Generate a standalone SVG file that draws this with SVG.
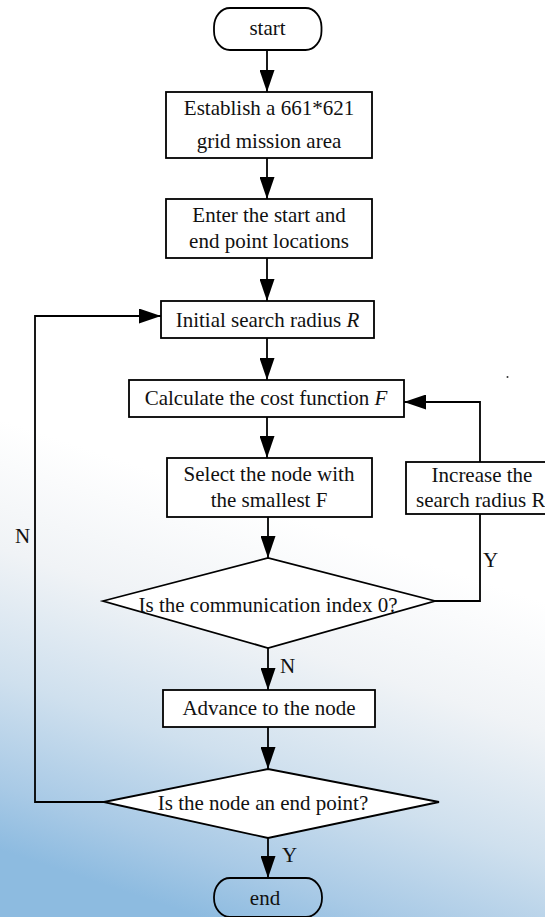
<svg xmlns="http://www.w3.org/2000/svg" width="545" height="917" viewBox="0 0 545 917">
<defs>
<style>
.n{fill:#fff;stroke:#000;stroke-width:1.8}
.t{fill:none;stroke:#000;stroke-width:1.8}
.c{fill:none;stroke:#000;stroke-width:1.8}
text{font-family:"Liberation Serif","Times New Roman",serif;font-size:21px;fill:#111}
.m{text-anchor:middle}
</style>
<marker id="ah" markerWidth="22" markerHeight="15" refX="22" refY="7.5" orient="auto" markerUnits="userSpaceOnUse">
<path d="M0,0 L22,7.5 L0,15 Z" fill="#000"/>
</marker>
<linearGradient id="bg" gradientUnits="userSpaceOnUse" x1="330" y1="530" x2="200" y2="917">
<stop offset="0" stop-color="#ffffff"/>
<stop offset="0.3" stop-color="#f0f3f6"/>
<stop offset="0.6" stop-color="#cfe0ee"/>
<stop offset="0.85" stop-color="#a9cae6"/>
<stop offset="1" stop-color="#8dbbe0"/>
</linearGradient>
</defs>
<rect x="0" y="0" width="545" height="917" fill="url(#bg)"/>
<circle cx="507.5" cy="377" r="1" fill="#333"/>
<g id="connectors">
<path class="c" d="M267,50 V92" marker-end="url(#ah)"/>
<path class="c" d="M267,158 V199" marker-end="url(#ah)"/>
<path class="c" d="M267,258 V301" marker-end="url(#ah)"/>
<path class="c" d="M267,338 V380" marker-end="url(#ah)"/>
<path class="c" d="M267,417 V458" marker-end="url(#ah)"/>
<path class="c" d="M268,517 V558" marker-end="url(#ah)"/>
<path class="c" d="M268,648 V690" marker-end="url(#ah)"/>
<path class="c" d="M268,727 V769" marker-end="url(#ah)"/>
<path class="c" d="M268,838 V878" marker-end="url(#ah)"/>
<path class="c" d="M435,601 H480 V514"/>
<path class="c" d="M480,462 V402 H404" marker-end="url(#ah)"/>
<path class="c" d="M104,802 H35 V316 H161" marker-end="url(#ah)"/>
<text x="280" y="673">N</text>
<text x="282" y="862">Y</text>
<text x="483" y="567">Y</text>
<text x="15" y="543">N</text>
</g>
<g id="start">
<rect class="n" x="214" y="8" width="107.5" height="42" rx="16" ry="19"/>
<text class="m" x="267.5" y="35">start</text>
</g>
<g id="establish">
<rect class="n" x="166" y="92" width="206" height="66"/>
<text class="m" x="269" y="115">Establish a 661*621</text>
<text class="m" x="269" y="148">grid mission area</text>
</g>
<g id="enter">
<rect class="n" x="166" y="199" width="206" height="59"/>
<text class="m" x="269" y="222">Enter the start and</text>
<text class="m" x="269" y="248">end point locations</text>
</g>
<g id="initial">
<rect class="n" x="161" y="301" width="213" height="37"/>
<text class="m" x="267.5" y="327">Initial search radius <tspan font-style="italic">R</tspan></text>
</g>
<g id="calculate">
<rect class="n" x="129" y="380" width="275" height="37"/>
<text class="m" x="266" y="405">Calculate the cost function <tspan font-style="italic">F</tspan></text>
</g>
<g id="select">
<rect class="n" x="167" y="458" width="205" height="59"/>
<text class="m" x="269" y="481">Select the node with</text>
<text class="m" x="269" y="507">the smallest F</text>
</g>
<g id="increase">
<rect class="n" x="406" y="462" width="145" height="52"/>
<text class="m" x="482" y="482">Increase the</text>
<text x="416" y="507">search radius R</text>
</g>
<g id="comm">
<path class="n" d="M103,601 L268,558 L435,601 L268,648 Z"/>
<text class="m" x="268" y="612">Is the communication index 0?</text>
</g>
<g id="advance">
<rect class="n" x="163" y="690" width="212" height="37"/>
<text class="m" x="269" y="715">Advance to the node</text>
</g>
<g id="endpoint">
<path class="n" d="M104,802 L268,769 L439,802 L268,838 Z"/>
<text class="m" x="263" y="810">Is the node an end point?</text>
</g>
<g id="end">
<rect class="t" x="214" y="878" width="108" height="39" rx="16" ry="19"/>
<text class="m" x="265" y="905">end</text>
</g>
</svg>
